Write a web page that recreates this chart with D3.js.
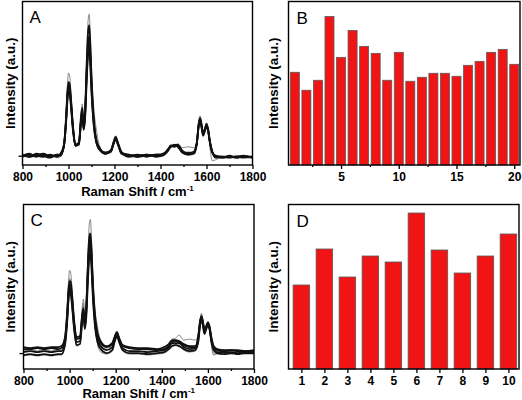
<!DOCTYPE html>
<html><head><meta charset="utf-8">
<script src="https://cdn.jsdelivr.net/npm/d3@7"></script>
<style>
body{margin:0;background:#fff}
svg{display:block}
text{font-family:"Liberation Sans",Arial,Helvetica,sans-serif}
</style>
</head><body>
<svg id="chart" width="522" height="400"></svg>
<script>
// ---------- DATA ----------
const waveNumbers = [800,830,860,890,920,950,965,980,990,995,1000,1005,1010,1020,1030,1045,1055,1060,1066,1072,1080,1085,1090,1095,1100,1110,1120,1135,1160,1185,1195,1205,1215,1230,1260,1300,1340,1380,1410,1430,1445,1460,1475,1495,1520,1545,1558,1566,1572,1578,1585,1593,1600,1607,1615,1625,1640,1670,1700,1730,1760,1800];

// Panel A spectra (intensity, a.u.)
const specA1 = [0,2,-1,1,-1,1,1, 10,38,60,70,68,56,27,11,12,37,44,28,42,90,114,120,102,72,34,16,7, 3,5,12,18,12,3,1,-1,1,0,2,5,10,9,10,4,2,3, 13,31,37,31,22,26,31,26,14,4, -1,-2,0,-2,-1,-2];
const specA2 = [-1,0,1,-1,0,-2,-1, 11,45,70,83,80,66,31,12,14,44,52,33,50,106,135,142,120,88,48,28,10, 2,4,13,20,13,3,0,1,0,-1,1,4,11,10,12,8,9,8, 14,34,40,34,23,28,33,26,8,-5, -4,-1,-2,0,-1,-1];
const specA3 = [1,-1,0,2,0,0,1, 9,35,54,64,62,51,24,10,11,34,40,26,37,80,101,106,90,64,30,14,6, 2,4,11,16,11,2,0,1,-1,1,1,6,9,11,9,3,1,2, 12,29,34,29,20,25,29,25,13,4, 0,-1,-2,-1,-2,-1];
const specA4 = [-1,1,0,-1,1,-1,2, 11,41,63,74,72,59,28,11,13,41,48,31,46,98,124,131,111,79,37,17,8, 2,6,13,19,13,4,-1,0,1,-1,0,4,9,10,11,5,2,4, 13,32,38,32,23,27,32,27,14,4, -2,-1,-1,-1,0,-2];
const specA5 = [0,-1,2,0,-2,1,0, 10,37,58,68,66,54,26,10,12,36,42,27,40,86,108,114,97,68,32,15,6, 3,5,12,17,12,3,1,-1,0,1,1,5,10,10,10,4,3,3, 13,31,36,30,21,26,30,25,13,3, -1,-2,-1,-2,-1,-1];

// Panel C spectra (intensity, a.u.)
const specC1 = [2,3,2,3,2,3,3, 13,47,71,83,80,67,33,14,16,47,54,36,50,102,128,134,115,85,45,28,12, 5,8,16,22,16,8,5,4,3,3,5,9,14,15,18,13,14,13, 18,34,40,34,24,25,29,23,8,-2, 0,1,2,1,2,1];
const specC2 = [4,4,5,4,5,4,5, 14,40,60,68,67,56,29,14,15,37,43,29,43,88,110,115,99,71,35,19,10, 6,9,15,20,14,7,5,4,4,3,4,7,11,12,11,8,6,6, 15,31,36,31,23,26,30,26,15,6, 3,2,3,2,2,2];
const specC3 = [-2,-1,-2,-1,-2,-1,-1, 8,33,52,62,60,49,23,8,9,32,38,24,35,75,95,100,85,60,27,12,4, 0,3,11,17,11,3,0,0,-1,0,1,4,7,8,7,4,2,3, 11,28,33,28,19,24,28,24,12,3, 0,-1,0,-1,0,0];
const specC4 = [6,5,6,5,6,6,7, 16,43,63,72,71,60,32,16,17,39,45,31,46,92,115,120,104,75,38,21,12, 7,10,16,21,15,8,6,5,5,4,6,9,13,13,12,9,7,7, 17,32,37,32,24,27,31,27,16,7, 4,3,3,3,2,3];
const specC5 = [-3,-2,-3,-2,-3,-2,-2, 8,39,62,75,72,58,26,7,9,42,50,30,36,80,102,108,91,63,27,10,1, -1,2,10,16,10,2,-1,-1,-2,-1,0,3,8,9,8,3,1,2, 12,32,38,32,21,24,29,23,10,-1, -1,-1,-1,0,-1,-1];
const specC6 = [1,2,1,2,1,2,2, 11,36,56,65,63,52,26,11,12,34,40,26,39,83,105,110,94,67,31,15,7, 3,6,13,19,13,5,2,2,1,2,3,6,10,10,10,6,4,5, 13,29,34,29,21,26,30,25,13,4, 1,1,1,0,1,1];

const spectraA = [
  {values: specA2, gray: true},
  {values: specA1, gray: false},
  {values: specA3, gray: false},
  {values: specA4, gray: false},
  {values: specA5, gray: false}
];
const spectraC = [
  {values: specC1, gray: true},
  {values: specC5, gray: true},
  {values: specC2, gray: false},
  {values: specC3, gray: false},
  {values: specC4, gray: false},
  {values: specC6, gray: false}
];

const ramanMajorTicks = [800,1000,1200,1400,1600,1800];
const ramanMinorTicks = [900,1100,1300,1500,1700];

// Panel B bars
const pointsB = [1,2,3,4,5,6,7,8,9,10,11,12,13,14,15,16,17,18,19,20];
const intensityB = [93,75,85,149,108,135,119,112,85,113,84,88,92,92,89,100,104,113,116,101];
const ticksB = [5,10,15,20];
const minorTicksB = [2.5,7.5,12.5,17.5];

// Panel D bars
const pointsD = [1,2,3,4,5,6,7,8,9,10];
const intensityD = [84,120,92,113,107,156,119,96,113,135];
const ticksD = [1,2,3,4,5,6,7,8,9,10];

// ---------- DRAWING ----------
const svg = d3.select("#chart");
const defs = svg.append("defs");

function styleAxis(g) {
  g.select(".domain").remove();
  g.selectAll("line").attr("stroke", "#000").attr("stroke-width", 1.3);
  g.selectAll("text").attr("font-size", 12).attr("font-weight", "bold")
    .attr("font-family", '"Liberation Sans",Arial,sans-serif').attr("fill", "#000");
}

function frame(f) {
  svg.append("rect").attr("x", f.l).attr("y", f.t)
    .attr("width", f.r - f.l).attr("height", f.b - f.t)
    .attr("fill", "none").attr("stroke", "#000").attr("stroke-width", 1.4);
}

function yTitle(cx, cy) {
  svg.append("text").attr("transform", `translate(${cx},${cy}) rotate(-90)`)
    .attr("text-anchor", "middle").attr("dy", "0.35em")
    .attr("font-size", 13.5).attr("font-weight", "bold").text("Intensity (a.u.)");
}

function panelLetter(x, y, s) {
  svg.append("text").attr("x", x).attr("y", y).attr("font-size", 17).text(s);
}

function spectrumPanel(id, f, ydom, curves, letter, titleY) {
  const x = d3.scaleLinear([800, 1800], [f.l, f.r]);
  const y = d3.scaleLinear(ydom, [f.b, f.t]);
  defs.append("clipPath").attr("id", "clip" + id).append("rect")
    .attr("x", f.l).attr("y", f.t).attr("width", f.r - f.l).attr("height", f.b - f.t);
  const line = d3.line().x((d, i) => x(waveNumbers[i])).y(d => y(d)).curve(d3.curveMonotoneX);
  const g = svg.append("g").attr("clip-path", `url(#clip${id})`);
  curves.forEach(c => {
    g.append("path").attr("d", line(c.values)).attr("fill", "none")
      .attr("stroke", c.gray ? "#7a7a7a" : "#111")
      .attr("stroke-width", c.gray ? 0.9 : 1.8)
      .attr("stroke-linejoin", "round");
  });
  svg.append("g").attr("transform", `translate(0,${f.b})`)
    .call(d3.axisBottom(x).tickValues(ramanMajorTicks).tickSize(4).tickPadding(3).tickSizeOuter(0).tickFormat(d3.format("d")))
    .call(styleAxis);
  svg.append("g").attr("transform", `translate(0,${f.b})`)
    .call(d3.axisBottom(x).tickValues(ramanMinorTicks).tickSize(2).tickSizeOuter(0).tickFormat(""))
    .call(styleAxis);
  svg.append("g").attr("transform", `translate(${f.l},0)`)
    .call(d3.axisLeft(y).tickValues([0]).tickSize(4).tickSizeOuter(0).tickFormat(""))
    .call(styleAxis);
  frame(f);
  const t = svg.append("text").attr("x", (f.l + f.r) / 2).attr("y", titleY)
    .attr("text-anchor", "middle").attr("font-size", 13).attr("font-weight", "bold");
  t.append("tspan").text("Raman Shift / cm");
  t.append("tspan").attr("dy", -5).attr("font-size", 8).text("-1");
  yTitle(10, (f.t + f.b) / 2);
  panelLetter(f.l + 7, f.t + 21, letter);
}

function barPanel(f, xdom, cats, vals, ydom, bw, majors, minors, letter) {
  const x = d3.scaleLinear(xdom, [f.l, f.r]);
  const y = d3.scaleLinear(ydom, [f.b, f.t]);
  const step = x(2) - x(1);
  svg.append("g").selectAll("rect").data(cats).join("rect")
    .attr("x", (d) => x(d) - step * bw / 2)
    .attr("width", step * bw)
    .attr("y", (d, i) => y(vals[i]))
    .attr("height", (d, i) => y(0) - y(vals[i]))
    .attr("fill", "#f01414").attr("stroke", "#5a5a5a").attr("stroke-width", 0.8);
  svg.append("g").attr("transform", `translate(0,${f.b})`)
    .call(d3.axisBottom(x).tickValues(majors).tickSize(4).tickPadding(3).tickSizeOuter(0).tickFormat(d3.format("d")))
    .call(styleAxis);
  if (minors) {
    svg.append("g").attr("transform", `translate(0,${f.b})`)
      .call(d3.axisBottom(x).tickValues(minors).tickSize(2).tickSizeOuter(0).tickFormat(""))
      .call(styleAxis);
  }
  frame(f);
  yTitle(f.l - 15, (f.t + f.b) / 2);
  panelLetter(f.l + 8, f.t + 22, letter);
}

const fA = {l: 22.5, r: 252.5, t: 1.5, b: 165};
const fC = {l: 23.5, r: 254, t: 204.5, b: 369};
const fB = {l: 288.5, r: 520, t: 1.5, b: 165};
const fD = {l: 288.5, r: 519, t: 204.5, b: 369};

spectrumPanel("A", fA, [-9.3, 154.7], spectraA, "A", 196);
spectrumPanel("C", fC, [-16, 149], spectraC, "C", 398);
barPanel(fB, [0.45, 20.5], pointsB, intensityB, [0, 164], 0.78, ticksB, minorTicksB, "B");
barPanel(fD, [0.44, 10.46], pointsD, intensityD, [0, 164.5], 0.72, ticksD, null, "D");
</script>
</body></html>
